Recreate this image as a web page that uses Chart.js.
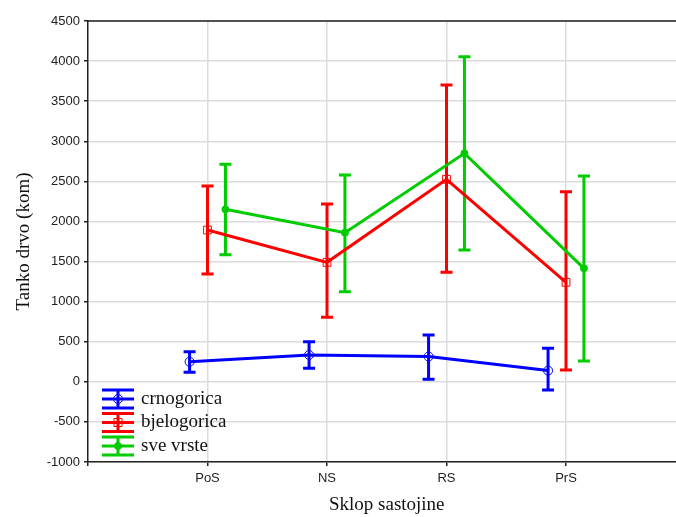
<!DOCTYPE html>
<html>
<head>
<meta charset="utf-8">
<script src="https://cdn.jsdelivr.net/npm/chart.js@4.4.0/dist/chart.umd.min.js"></script>
<style>
  html, body { margin: 0; padding: 0; background: #fff; overflow: hidden; }
  #wrap { position: absolute; left: 0; top: 0; width: 700px; height: 517px; }
</style>
</head>
<body>
<div id="wrap"><canvas id="chart"></canvas></div>
<script>
const categories = ['PoS', 'NS', 'RS', 'PrS'];

const crnogoricaMean = [250, 335, 315, 140];
const crnogoricaLow  = [118, 168, 31, -102];
const crnogoricaHigh = [375, 500, 584, 418];

const bjelogoricaMean = [1893, 1490, 2526, 1241];
const bjelogoricaLow  = [1344, 804, 1366, 147];
const bjelogoricaHigh = [2442, 2217, 3702, 2371];

const sveMean = [2151, 1860, 2850, 1415];
const sveLow  = [1585, 1124, 1644, 259];
const sveHigh = [2712, 2579, 4055, 2567];

const yTicks = [-1000, -500, 0, 500, 1000, 1500, 2000, 2500, 3000, 3500, 4000, 4500];

const serif = '"Liberation Serif", "Times New Roman", serif';
const sans = '"Liberation Sans", Arial, sans-serif';

function points(means, shift) {
  return means.map((v, i) => ({ x: i + 1 + shift, y: v }));
}

function series(label, color, means, lows, highs, shift, style, radius, fill) {
  return {
    label: label,
    data: points(means, shift),
    lows: lows,
    highs: highs,
    borderColor: color,
    backgroundColor: fill,
    borderWidth: 3,
    pointStyle: style,
    pointRadius: radius,
    pointBorderWidth: 1,
    pointBorderColor: color,
    pointBackgroundColor: fill,
    tension: 0
  };
}

// error bars + legend inside the plot
const errorBars = {
  id: 'errorBars',
  beforeDatasetsDraw(chart) {
    const { ctx } = chart;
    const y = chart.scales.y;
    ctx.save();
    chart.data.datasets.forEach((ds, di) => {
      const meta = chart.getDatasetMeta(di);
      ctx.strokeStyle = ds.borderColor;
      ctx.lineWidth = 3;
      meta.data.forEach((pt, i) => {
        const top = y.getPixelForValue(ds.highs[i]);
        const bot = y.getPixelForValue(ds.lows[i]);
        ctx.beginPath();
        ctx.moveTo(pt.x, top); ctx.lineTo(pt.x, bot);
        ctx.moveTo(pt.x - 6, top); ctx.lineTo(pt.x + 6, top);
        ctx.moveTo(pt.x - 6, bot); ctx.lineTo(pt.x + 6, bot);
        ctx.stroke();
      });
    });
    ctx.restore();
  },
  afterDraw(chart) {
    const { ctx, chartArea } = chart;
    ctx.save();
    // top frame line
    ctx.strokeStyle = '#222';
    ctx.lineWidth = 1.5;
    ctx.beginPath();
    ctx.moveTo(chartArea.left, chartArea.top);
    ctx.lineTo(chartArea.right, chartArea.top);
    ctx.stroke();

    const sx = chartArea.left + 30;
    chart.data.datasets.forEach((ds, di) => {
      const cy = chartArea.bottom - 63 + di * 23.5;
      ctx.strokeStyle = ds.borderColor;
      ctx.lineWidth = 3;
      ctx.beginPath();
      ctx.moveTo(sx - 16, cy - 9); ctx.lineTo(sx + 16, cy - 9);
      ctx.moveTo(sx - 16, cy + 9); ctx.lineTo(sx + 16, cy + 9);
      ctx.moveTo(sx - 16, cy); ctx.lineTo(sx + 16, cy);
      ctx.moveTo(sx, cy - 9); ctx.lineTo(sx, cy + 9);
      ctx.stroke();
      ctx.lineWidth = 1;
      ctx.fillStyle = ds.pointBackgroundColor;
      ctx.beginPath();
      if (ds.pointStyle === 'rect') {
        ctx.rect(sx - 4, cy - 4, 8, 8);
      } else {
        ctx.arc(sx, cy, ds.pointRadius, 0, Math.PI * 2);
      }
      ctx.fill();
      ctx.stroke();
      ctx.fillStyle = '#111';
      ctx.font = '19px ' + serif;
      ctx.textBaseline = 'middle';
      ctx.textAlign = 'left';
      ctx.fillText(ds.label, sx + 23, cy);
    });
    ctx.restore();
  }
};

new Chart(document.getElementById('chart'), {
  type: 'line',
  data: {
    datasets: [
      series('crnogorica', '#0000ff', crnogoricaMean, crnogoricaLow, crnogoricaHigh, -0.15, 'circle', 4.5, 'rgba(255,255,255,0)'),
      series('bjelogorica', '#ff0000', bjelogoricaMean, bjelogoricaLow, bjelogoricaHigh, 0, 'rect', 5.5, 'rgba(255,255,255,0)'),
      series('sve vrste', '#00cc00', sveMean, sveLow, sveHigh, 0.15, 'circle', 3.5, '#00cc00')
    ]
  },
  options: {
    responsive: true,
    maintainAspectRatio: false,
    animation: false,
    layout: { padding: { left: 0, top: 21, right: 14.5, bottom: 0 } },
    plugins: {
      legend: { display: false },
      tooltip: { enabled: false }
    },
    scales: {
      x: {
        type: 'linear',
        min: 0,
        max: 5,
        afterFit(scale) { scale.height = 55; },
        afterBuildTicks(scale) {
          scale.ticks = [0, 1, 2, 3, 4, 5].map(v => ({ value: v }));
        },
        ticks: {
          color: '#222',
          font: { family: sans, size: 13 },
          padding: 5,
          maxRotation: 0,
          callback: v => categories[v - 1] || ''
        },
        grid: {
          color: ctx => (ctx.tick && (ctx.tick.value === 0 || ctx.tick.value === 5)) ? 'rgba(0,0,0,0)' : '#dcdcdc',
          tickColor: '#222',
          tickLength: 4,
          lineWidth: 1.5
        },
        border: { color: '#222', width: 1.5 },
        title: {
          display: true,
          text: 'Sklop sastojine',
          color: '#111',
          font: { family: serif, size: 19 },
          padding: { top: 0, bottom: 1 }
        }
      },
      y: {
        min: -1000,
        max: 4500,
        afterFit(scale) { scale.width = 88; },
        afterBuildTicks(scale) {
          scale.ticks = yTicks.map(v => ({ value: v }));
        },
        ticks: {
          color: '#222',
          font: { family: sans, size: 13 },
          padding: 4,
          callback: v => String(v)
        },
        grid: {
          color: '#dcdcdc',
          tickColor: '#222',
          tickLength: 4,
          lineWidth: 1.5
        },
        border: { color: '#222', width: 1.5 },
        title: {
          display: true,
          text: 'Tanko drvo (kom)',
          color: '#111',
          font: { family: serif, size: 19 },
          padding: { top: 13, bottom: 0 }
        }
      }
    }
  },
  plugins: [errorBars]
});
</script>
</body>
</html>
